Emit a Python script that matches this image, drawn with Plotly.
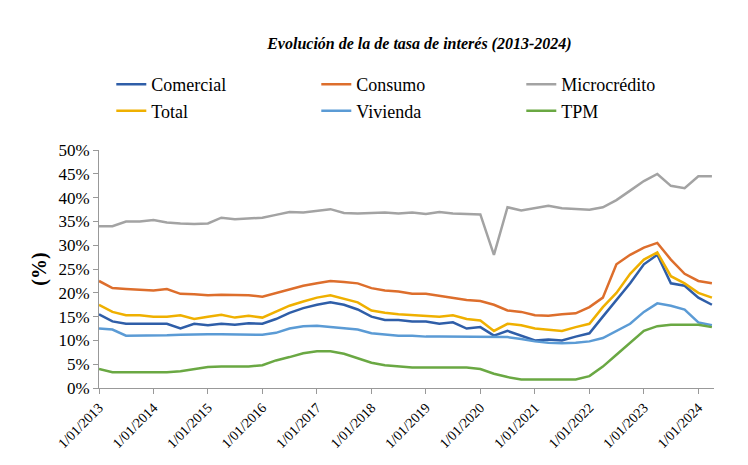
import pandas as pd
import plotly.graph_objects as go

# quarterly readings, Jan 2013 - Apr 2024
dates = pd.date_range("2013-01-01", "2024-04-01", freq="QS")

microcredito = [34.0, 34.0, 35.0, 35.0, 35.3, 34.8, 34.6, 34.5, 34.6, 35.8, 35.5, 35.7,
                35.8, 36.4, 37.0, 36.9, 37.2, 37.6, 36.8, 36.7, 36.8, 36.9, 36.7, 36.9,
                36.6, 37.0, 36.7, 36.6, 36.5, 28.0, 38.0, 37.3, 37.8, 38.3, 37.8, 37.6,
                37.5, 38.0, 39.5, 41.5, 43.5, 45.0, 42.5, 42.0, 44.5, 44.5]
consumo = [22.5, 21.0, 20.8, 20.6, 20.5, 20.8, 19.8, 19.7, 19.5, 19.6, 19.5, 19.5,
           19.2, 20.0, 20.8, 21.5, 22.0, 22.5, 22.3, 22.0, 21.0, 20.5, 20.3, 19.8,
           19.8, 19.4, 19.0, 18.5, 18.3, 17.5, 16.3, 16.0, 15.3, 15.2, 15.5, 15.7,
           17.0, 19.0, 26.0, 28.0, 29.5, 30.5, 27.0, 24.0, 22.5, 22.0]
total = [17.5, 16.0, 15.3, 15.3, 15.0, 15.0, 15.3, 14.5, 15.0, 15.4, 14.8, 15.2,
         14.8, 16.0, 17.3, 18.2, 19.0, 19.5, 18.8, 18.0, 16.3, 15.8, 15.5, 15.3,
         15.2, 15.0, 15.3, 14.5, 14.2, 12.0, 13.5, 13.2, 12.5, 12.3, 12.0, 12.8,
         13.5, 17.0, 20.0, 24.0, 27.0, 28.5, 23.5, 22.0, 20.0, 19.0]
comercial = [15.5, 14.0, 13.5, 13.5, 13.5, 13.5, 12.5, 13.5, 13.2, 13.5, 13.3, 13.6,
             13.5, 14.5, 15.8, 16.8, 17.5, 18.0, 17.5, 16.5, 15.0, 14.3, 14.3, 14.0,
             14.0, 13.5, 13.8, 12.5, 12.8, 11.0, 12.0, 11.0, 10.0, 10.2, 10.0, 10.8,
             11.5, 15.0, 18.5, 22.0, 26.0, 28.0, 22.0, 21.5, 19.0, 17.5]
vivienda = [12.5, 12.3, 11.0, 11.0, 11.0, 11.1, 11.2, 11.3, 11.3, 11.3, 11.3, 11.2,
            11.2, 11.6, 12.5, 13.0, 13.1, 12.8, 12.6, 12.3, 11.5, 11.2, 11.0, 11.0,
            10.8, 10.8, 10.8, 10.7, 10.7, 10.8, 10.7, 10.3, 9.8, 9.5, 9.4, 9.5,
            9.8, 10.5, 12.0, 13.5, 16.0, 17.8, 17.3, 16.5, 13.8, 13.2]
tpm = [4.0, 3.3, 3.3, 3.3, 3.3, 3.3, 3.5, 4.0, 4.4, 4.5, 4.5, 4.5,
       4.8, 5.8, 6.5, 7.3, 7.7, 7.7, 7.2, 6.3, 5.3, 4.8, 4.5, 4.3,
       4.3, 4.3, 4.3, 4.3, 4.0, 3.0, 2.3, 1.8, 1.8, 1.8, 1.8, 1.8,
       2.5, 4.5, 7.0, 9.5, 12.0, 13.0, 13.3, 13.3, 13.3, 12.8]

series = [
    ("Comercial", comercial, "#2F5EA8"),
    ("Consumo", consumo, "#DD6E2C"),
    ("Microcrédito", microcredito, "#A3A3A3"),
    ("Total", total, "#EFB000"),
    ("Vivienda", vivienda, "#5B9BD5"),
    ("TPM", tpm, "#6AA843"),
]

tick_years = list(range(2013, 2025))
tick_vals = [pd.Timestamp(f"{y}-01-01") for y in tick_years]
tick_text = [f"1/01/{y}" for y in tick_years]

fig = go.Figure()
for name, vals, color in series:
    fig.add_trace(go.Scatter(x=dates, y=[v / 100 for v in vals], name=name,
                             mode="lines", line=dict(color=color, width=2.5)))

font = dict(family="Liberation Serif, Times New Roman, serif", size=17, color="black")
fig.update_layout(
    width=748, height=465,
    margin=dict(l=91, r=42, t=94, b=85),
    plot_bgcolor="white", paper_bgcolor="white",
    font=font,
    title=dict(text="<b><i>Evolución de la de tasa de interés (2013-2024)</i></b>",
               x=0.55, y=0.935, xanchor="center", font=dict(size=16)),
    legend=dict(orientation="h", x=0.02, y=0.875, xanchor="left", yanchor="top",
                yref="container",
                entrywidth=160, entrywidthmode="pixels", tracegroupgap=0,
                font=dict(size=18), bgcolor="rgba(0,0,0,0)"),
    showlegend=True,
)
fig.update_xaxes(range=[pd.Timestamp("2013-01-01"), pd.Timestamp("2024-04-15")],
                 tickvals=tick_vals, ticktext=tick_text, tickangle=-45,
                 showline=True, linecolor="#999", ticks="outside", tickcolor="#999",
                 showgrid=False, tickfont=dict(size=14))
fig.update_yaxes(range=[0, 0.5], dtick=0.05, tickformat=".0%",
                 showline=True, linecolor="#999", ticks="outside", tickcolor="#999",
                 showgrid=False, zeroline=False, tickfont=dict(size=17),
                 title=dict(text="<b>(%)</b>", standoff=6))

fig.write_html("out.html")
